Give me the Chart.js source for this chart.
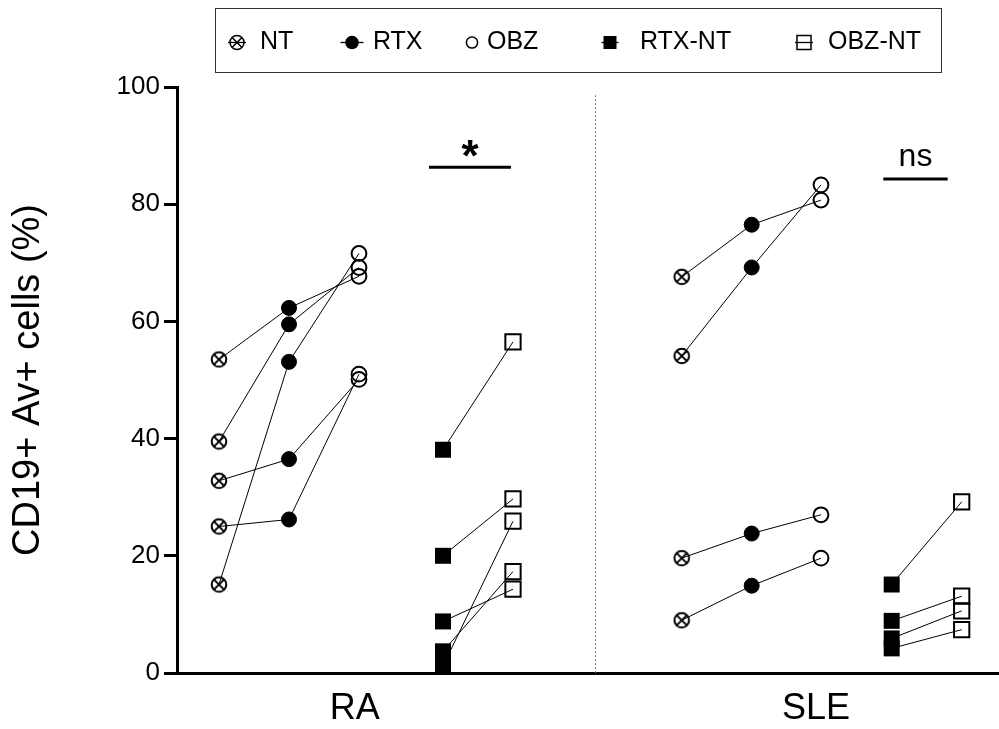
<!DOCTYPE html>
<html>
<head>
<meta charset="utf-8">
<title>CD19+ Av+ cells</title>
<script src="https://cdn.jsdelivr.net/npm/chart.js@4.4.1/dist/chart.umd.min.js"></script>
<style>
  html, body { margin: 0; padding: 0; background: #fff; }
  #wrap { width: 999px; height: 729px; }
</style>
</head>
<body>
<div id="wrap"><canvas id="myCanvas" width="999" height="729"></canvas></div>
<script>
const groups = ['RA', 'SLE'];
const treatments = ['NT', 'RTX', 'OBZ', 'RTX-NT', 'OBZ-NT'];

// one value per donor, same donor order in every array of a group
const raNT     = [53.5, 39.5, 32.8, 25.0, 15.1];
const raRTX    = [62.3, 59.5, 36.5, 26.2, 53.1];
const raOBZ    = [67.7, 69.2, 50.1, 51.0, 71.6];
const raRTXNT  = [8.8, 20.0, 3.7, 1.2, 38.1];
const raOBZNT  = [14.3, 29.7, 17.3, 25.9, 56.5];

const sleNT    = [67.6, 54.1, 19.6, 9.0];
const sleRTX   = [76.5, 69.2, 23.8, 14.9];
const sleOBZ   = [80.7, 83.3, 27.0, 19.6];
const sleRTXNT = [8.9, 15.1, 4.2, 5.9];
const sleOBZNT = [13.1, 29.2, 7.4, 10.6];

const yTicks = [0, 20, 40, 60, 80, 100];
const significance = ['*', 'ns'];

// layout (x scale units)
const slots = { RA: [1, 2, 3, 4.2, 5.2], SLE: [7.61, 8.61, 9.6, 10.61, 11.61] };
const groupLabelX = { RA: 2.94, SLE: 9.53 };
const dividerX = 6.37;
const sigBars = {
  RA:  { from: 4.0,   to: 5.17,  y: 86.3, textY: 87.8,  font: 'bold 44px' },
  SLE: { from: 10.49, to: 11.41, y: 84.3, textY: 88.05, font: '32px' }
};
// legend placement (canvas pixels)
const legendBox = { left: 215, top: 8, right: 941, bottom: 72, y: 42.5 };
const legendSymbolX = [237, 352, 472, 610, 804];
const legendTextX = [260, 373, 487, 640, 828];

const values = {
  RA:  [raNT, raRTX, raOBZ, raRTXNT, raOBZNT],
  SLE: [sleNT, sleRTX, sleOBZ, sleRTXNT, sleOBZNT]
};

const FONT = "'Liberation Sans', Arial, sans-serif";
Chart.defaults.font.family = FONT;
Chart.defaults.color = '#000';

function crossCircle(ctx, cx, cy, r, lw) {
  ctx.lineWidth = lw;
  ctx.beginPath(); ctx.arc(cx, cy, r, 0, Math.PI * 2); ctx.stroke();
  const d = r * Math.SQRT1_2;
  ctx.beginPath();
  ctx.moveTo(cx - d, cy - d); ctx.lineTo(cx + d, cy + d);
  ctx.moveTo(cx - d, cy + d); ctx.lineTo(cx + d, cy - d);
  ctx.stroke();
}

// crossed circle marker for NT
const ntMarker = document.createElement('canvas');
ntMarker.width = 20; ntMarker.height = 20;
(function () {
  const c = ntMarker.getContext('2d');
  c.strokeStyle = '#000';
  crossCircle(c, 10, 10, 7.3, 2);
})();

function hLine(ctx, x, y, half) {
  ctx.lineWidth = 1.3;
  ctx.beginPath(); ctx.moveTo(x - half, y); ctx.lineTo(x + half, y); ctx.stroke();
}
const legendSymbols = [
  (ctx, x, y) => { hLine(ctx, x, y, 9); crossCircle(ctx, x, y, 7, 1.5); },
  (ctx, x, y) => { hLine(ctx, x, y, 11.5); ctx.beginPath(); ctx.arc(x, y, 6.8, 0, Math.PI * 2); ctx.fill(); },
  (ctx, x, y) => { ctx.lineWidth = 1.5; ctx.beginPath(); ctx.arc(x, y, 5.6, 0, Math.PI * 2); ctx.stroke(); },
  (ctx, x, y) => { hLine(ctx, x, y, 8.5); ctx.fillRect(x - 6.5, y - 6.5, 13, 13); },
  (ctx, x, y) => { hLine(ctx, x, y, 9); ctx.lineWidth = 1.5; ctx.strokeRect(x - 7, y - 7, 14, 14); }
];

const markerStyles = [
  { pointStyle: ntMarker, pointRadius: 8 },
  { pointStyle: 'circle', pointRadius: 7.5, pointBackgroundColor: '#000', pointBorderWidth: 1 },
  { pointStyle: 'circle', pointRadius: 7.4, pointBackgroundColor: 'rgba(0,0,0,0)', pointBorderWidth: 2 },
  { pointStyle: 'rect', pointRadius: 11.3, pointBackgroundColor: '#000', pointBorderWidth: 0 },
  { pointStyle: 'rect', pointRadius: 10.8, pointBackgroundColor: 'rgba(0,0,0,0)', pointBorderWidth: 2 }
];

const datasets = [];

// marker datasets, one per treatment, both groups
treatments.forEach((t, ti) => {
  datasets.push(Object.assign({
    label: t,
    data: groups.flatMap(g => values[g][ti].map(v => ({ x: slots[g][ti], y: v }))),
    showLine: false,
    pointBorderColor: '#000',
    pointHoverRadius: 0,
    order: 0
  }, markerStyles[ti]));
});

// paired lines per donor: NT -> RTX -> OBZ and RTX-NT -> OBZ-NT
groups.forEach(g => {
  values[g][0].forEach((_, d) => {
    [[0, 1, 2], [3, 4]].forEach(chain => {
      datasets.push({
        label: g + ' donor ' + (d + 1),
        data: chain.map(ti => ({ x: slots[g][ti], y: values[g][ti][d] })),
        borderColor: '#000',
        borderWidth: 1,
        pointRadius: 0,
        fill: false,
        tension: 0,
        order: 1
      });
    });
  });
});

const extras = {
  id: 'extras',
  beforeDatasetsDraw(chart) {
    const { ctx, scales: { x, y } } = chart;
    const px = Math.round(x.getPixelForValue(dividerX)) + 0.5;
    ctx.save();
    ctx.strokeStyle = '#777';
    ctx.lineWidth = 1;
    ctx.setLineDash([2, 2]);
    ctx.beginPath();
    ctx.moveTo(px, y.getPixelForValue(98.6));
    ctx.lineTo(px, y.getPixelForValue(0));
    ctx.stroke();
    ctx.restore();
  },
  afterDraw(chart) {
    const { ctx, scales: { x, y } } = chart;
    ctx.save();
    ctx.fillStyle = '#000';
    ctx.strokeStyle = '#000';
    groups.forEach((g, i) => {
      const s = sigBars[g];
      const yy = y.getPixelForValue(s.y);
      ctx.lineWidth = 3;
      ctx.beginPath();
      ctx.moveTo(x.getPixelForValue(s.from), yy);
      ctx.lineTo(x.getPixelForValue(s.to), yy);
      ctx.stroke();
      ctx.font = s.font + ' ' + FONT;
      ctx.textAlign = 'center';
      ctx.textBaseline = 'middle';
      ctx.fillText(significance[i], x.getPixelForValue((s.from + s.to) / 2), y.getPixelForValue(s.textY));
    });

    // legend
    ctx.strokeStyle = '#333';
    ctx.lineWidth = 1;
    ctx.strokeRect(legendBox.left + 0.5, legendBox.top + 0.5,
      legendBox.right - legendBox.left, legendBox.bottom - legendBox.top);
    ctx.strokeStyle = '#000';
    ctx.font = '25px ' + FONT;
    ctx.textAlign = 'left';
    ctx.textBaseline = 'middle';
    treatments.forEach((t, i) => {
      legendSymbols[i](ctx, legendSymbolX[i], legendBox.y);
      ctx.fillText(t, legendTextX[i], legendBox.y);
    });
    ctx.restore();
  }
};

const chart = new Chart(document.getElementById('myCanvas'), {
  type: 'line',
  data: { datasets },
  options: {
    responsive: false,
    animation: false,
    events: [],
    layout: { autoPadding: false, padding: { top: 87, left: 0, right: 0, bottom: 0 } },
    scales: {
      x: {
        type: 'linear',
        min: 0.4,
        max: 12.143,
        grid: { display: false, drawTicks: false },
        border: { display: true, color: '#000', width: 3 },
        afterFit(scale) { scale.height = 56; },
        afterBuildTicks(scale) { scale.ticks = groups.map(g => ({ value: groupLabelX[g] })); },
        ticks: {
          autoSkip: false,
          maxRotation: 0,
          padding: 14,
          font: { size: 36 },
          color: '#000',
          callback: (v, i) => groups[i]
        }
      },
      y: {
        min: yTicks[0],
        max: yTicks[yTicks.length - 1],
        afterFit(scale) { scale.width = 177; },
        afterBuildTicks(scale) { scale.ticks = yTicks.map(v => ({ value: v })); },
        grid: { drawOnChartArea: false, drawTicks: true, tickLength: 13, lineWidth: 3, color: '#000' },
        border: { display: true, color: '#000', width: 3 },
        ticks: { padding: 4, font: { size: 26 }, color: '#000' },
        title: {
          display: true,
          text: 'CD19+ Av+ cells (%)',
          font: { size: 38 },
          color: '#000',
          padding: { top: 6, bottom: 0 }
        }
      }
    },
    plugins: {
      tooltip: { enabled: false },
      legend: { display: false }
    }
  },
  plugins: [extras]
});
</script>
</body>
</html>
